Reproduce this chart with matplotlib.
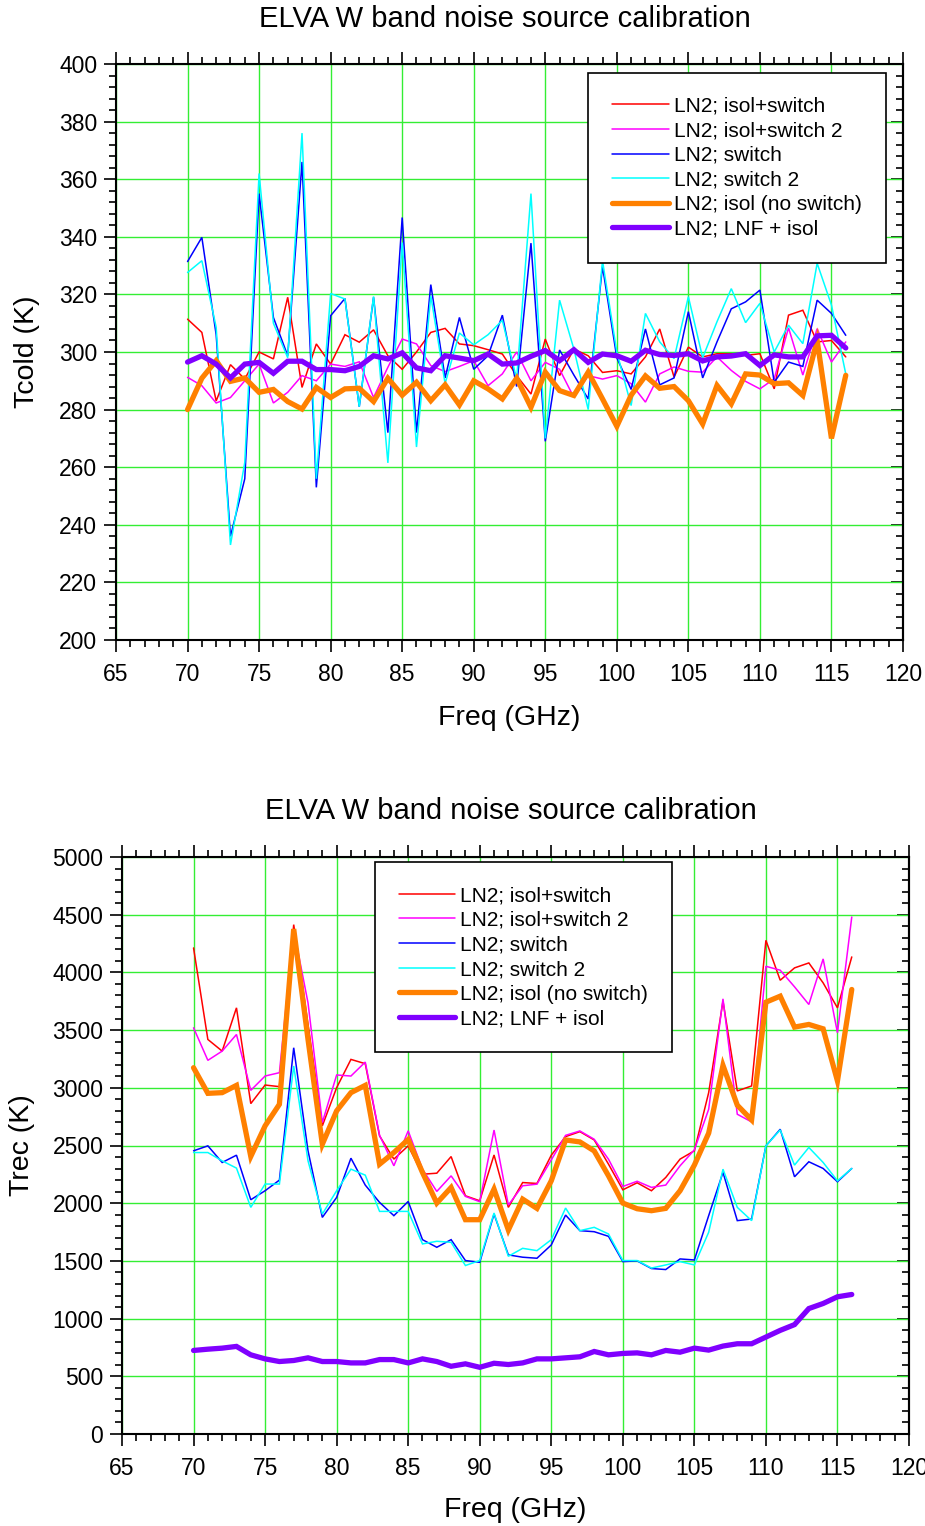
import numpy as np
import matplotlib
matplotlib.use("Agg")
import matplotlib.pyplot as plt
from matplotlib.ticker import MultipleLocator

plt.rcParams["font.family"] = ["Liberation Sans", "DejaVu Sans"]

TITLE = "ELVA W band noise source calibration"
LABELS = ["LN2; isol+switch", "LN2; isol+switch 2", "LN2; switch",
          "LN2; switch 2", "LN2; isol (no switch)", "LN2; LNF + isol"]

freq = list(range(70, 117))

# Tcold (K)
tcold_isol_switch = [311.4, 306.8, 283, 295.6, 290.6, 300, 297.6, 319, 287.7, 302.8,
                     295.8, 306, 303.4, 307.7, 298.7, 294, 300, 306.8, 308.2, 302.8,
                     302.2, 300.8, 299.3, 291.8, 285.4, 304.5, 291.8, 301, 298.7, 292.9,
                     293.5, 292.4, 298.3, 308, 291.3, 301.7, 298.3, 299.4, 299.4, 298.8,
                     299.4, 287.2, 312.8, 314.5, 303.5, 304, 298.3]
tcold_isol_switch2 = [291.2, 288.3, 282.3, 284.2, 290, 295.8, 282.3, 286, 291.8, 290,
                      295.8, 295, 296.6, 284.2, 294.7, 304.5, 302.8, 295.3, 293.2, 295,
                      297, 288.3, 292.4, 300, 290, 296.4, 294, 284.2, 291.8, 290.6,
                      291.8, 289, 282.6, 292.4, 294.8, 293.3, 293, 298.3, 293.6, 289.8,
                      287.2, 290.7, 308.4, 292, 308.1, 296.5, 303.5]
tcold_switch = [331.4, 339.8, 306, 236, 256, 355, 312, 298.7, 366, 253,
                312.6, 318.6, 281, 319, 272, 346.7, 272, 323.4, 291, 312,
                294, 298.7, 312.8, 288, 337.8, 269, 300.7, 292, 283.7, 329.7,
                298, 287, 308, 288.6, 291, 314, 291, 303.5, 315, 317.4,
                321.5, 289.5, 296.5, 295, 318, 313.4, 305.8]
tcold_switch2 = [327.6, 331.7, 308.6, 233, 261.7, 362, 310, 298, 376, 256,
                 320.3, 318.4, 281, 319.3, 261.5, 338, 267, 319.5, 289, 306.6,
                 302.5, 306, 311, 290.6, 355, 270, 318, 301, 280, 331.7,
                 300, 281.4, 313.4, 303.5, 297.7, 319.2, 298, 310.5, 322, 310.2,
                 316.9, 300, 309.3, 302.9, 330.8, 316.3, 292.4]
tcold_isol = [280, 290.9, 297, 289.8, 291, 286, 287, 282.8, 280.2, 287.7,
              284.2, 287.2, 287.4, 282.8, 290.9, 285, 289.5, 283.1, 288.6, 281.6,
              290, 287.2, 283.7, 290.9, 280.8, 293, 286.6, 284.9, 293, 283.7,
              274.2, 285, 291.7, 287.4, 288, 283.1, 275, 288.4, 282, 292.4,
              292, 289, 289.3, 284.9, 304, 270, 291.9]
tcold_lnf = [296.5, 298.7, 295.8, 291, 295.8, 296.4, 292.6, 296.8, 296.8, 293.9,
             293.9, 293.5, 295, 298.7, 297.6, 299.7, 294.5, 293.5, 298.7, 297.9,
             297, 299.3, 295.8, 296.2, 298.5, 300.5, 297, 300.8, 296.4, 299.3,
             298.7, 296.8, 300.6, 299.1, 298.8, 299.4, 296.9, 298.3, 298.6, 299.4,
             295.3, 299, 298.3, 298.3, 305.6, 305.8, 301.4]

# Trec (K)
trec_isol_switch = [4212, 3419, 3318, 3693, 2863, 3024, 3010, 4414, 3550, 2670,
                    3001, 3246, 3209, 2583, 2382, 2497, 2251, 2260, 2404, 2064,
                    2021, 2418, 1964, 2179, 2171, 2416, 2577, 2620, 2548, 2338,
                    2116, 2177, 2108, 2223, 2382, 2454, 2958, 3751, 2973, 3016,
                    4278, 3932, 4039, 4082, 3909, 3693, 4134]
trec_isol_switch2 = [3520, 3238, 3318, 3462, 2978, 3102, 3131, 4370, 3736, 2699,
                     3111, 3102, 3223, 2589, 2324, 2627, 2295, 2102, 2237, 2059,
                     2013, 2634, 1984, 2151, 2165, 2375, 2588, 2626, 2554, 2381,
                     2145, 2190, 2137, 2157, 2324, 2462, 2814, 3771, 2771, 2704,
                     4053, 4019, 3875, 3722, 4117, 3477, 4480]
trec_switch = [2454, 2497, 2353, 2416, 2030, 2108, 2200, 3347, 2454, 1877,
               2050, 2390, 2157, 2007, 1892, 2015, 1684, 1618, 1684, 1503,
               1488, 1906, 1552, 1532, 1523, 1638, 1897, 1762, 1753, 1713,
               1494, 1500, 1434, 1425, 1517, 1508, 1892, 2267, 1849, 1863,
               2497, 2641, 2229, 2359, 2301, 2186, 2301]
trec_switch2 = [2439, 2439, 2367, 2304, 1964, 2166, 2166, 3189, 2367, 1906,
                2108, 2295, 2243, 1929, 1929, 1929, 1647, 1670, 1661, 1460,
                1503, 1915, 1540, 1609, 1589, 1684, 1958, 1762, 1791, 1733,
                1503, 1503, 1438, 1465, 1494, 1465, 1748, 2295, 1964, 1849,
                2497, 2635, 2330, 2483, 2353, 2194, 2301]
trec_isol = [3174, 2952, 2958, 3021, 2405, 2670, 2857, 4376, 3419, 2511,
             2800, 2958, 3021, 2338, 2439, 2552, 2266, 2001, 2136, 1857,
             1857, 2122, 1768, 2035, 1955, 2194, 2548, 2531, 2453, 2237,
             2001, 1952, 1935, 1955, 2108, 2330, 2607, 3194, 2849, 2722,
             3742, 3794, 3526, 3549, 3511, 3059, 3852]
trec_lnf = [724, 735, 744, 759, 686, 651, 628, 637, 660, 628,
            628, 616, 616, 645, 645, 616, 651, 628, 587, 608,
            578, 613, 602, 616, 651, 651, 660, 669, 715, 686,
            698, 703, 686, 724, 709, 744, 727, 762, 782, 782,
            840, 898, 948, 1087, 1131, 1189, 1209]

COLORS = ["#ff0000", "#ff00ff", "#0000ff", "#00ffff", "#ff8000", "#8000ff"]
WIDTHS = [1.1, 1.1, 1.1, 1.1, 3.8, 3.8]


def style_axes(ax, ymin, ymax, ymajor, yminor):
    ax.set_xlim(65, 120)
    ax.set_ylim(ymin, ymax)
    ax.xaxis.set_major_locator(MultipleLocator(5))
    ax.xaxis.set_minor_locator(MultipleLocator(1))
    ax.yaxis.set_major_locator(MultipleLocator(ymajor))
    ax.yaxis.set_minor_locator(MultipleLocator(yminor))
    ax.grid(True, which="major", color="#33ee33", linewidth=1.0)
    ax.set_axisbelow(True)
    for s in ax.spines.values():
        s.set_linewidth(1.5)
    ax.tick_params(which="both", direction="out", top=True, right=False,
                   labelsize=16.5, width=1.2)
    ax.tick_params(which="major", length=8.5)
    ax.tick_params(which="minor", length=5)
    ax.tick_params(axis="x", which="major", pad=8)
    ax.tick_params(axis="y", which="major", pad=5)
    # right side ticks point inwards
    sec = ax.secondary_yaxis("right")
    sec.yaxis.set_major_locator(MultipleLocator(ymajor))
    sec.yaxis.set_minor_locator(MultipleLocator(yminor))
    sec.tick_params(which="both", direction="in", labelright=False, width=1.2)
    sec.tick_params(which="major", length=8.5)
    sec.tick_params(which="minor", length=5)
    sec.spines["right"].set_linewidth(1.5)


def draw_panel(ax, series, ylabel, leg_anchor, leg_loc):
    for y, c, w, lab in zip(series, COLORS, WIDTHS, LABELS):
        ax.plot(freq, y, color=c, linewidth=w, label=lab,
                solid_joinstyle="miter", solid_capstyle="round")
    ax.set_xlabel("Freq (GHz)", fontsize=20.5)
    ax.set_ylabel(ylabel, fontsize=20.5)
    leg = ax.legend(loc=leg_loc, bbox_to_anchor=leg_anchor, fontsize=15,
                    frameon=True, fancybox=False, framealpha=1,
                    edgecolor="black", borderpad=1.15, labelspacing=0.27,
                    handlelength=2.7, handletextpad=0.25, borderaxespad=0)
    leg.get_frame().set_linewidth(1.2)


def main():
    fig = plt.figure(figsize=(9.25, 15.26), dpi=100)

    ax1 = fig.add_axes([116 / 925, 1 - 640 / 1526, 787 / 925, 576 / 1526])
    style_axes(ax1, 200, 400, 20, 4)
    draw_panel(ax1, [tcold_isol_switch, tcold_isol_switch2, tcold_switch,
                     tcold_switch2, tcold_isol, tcold_lnf],
               "Tcold (K)", (0.978, 0.985), "upper right")
    ax1.xaxis.set_label_coords(0.5, -0.112)
    ax1.yaxis.set_label_coords(-0.097, 0.5)
    fig.text(505 / 925, 1 - 19 / 1526, TITLE, fontsize=21, ha="center", va="center")

    ax2 = fig.add_axes([122 / 925, 1 - 1434 / 1526, 787 / 925, 577 / 1526])
    style_axes(ax2, 0, 5000, 500, 100)
    draw_panel(ax2, [trec_isol_switch, trec_isol_switch2, trec_switch,
                     trec_switch2, trec_isol, trec_lnf],
               "Trec (K)", (0.3215, 0.991), "upper left")
    ax2.xaxis.set_label_coords(0.5, -0.11)
    ax2.yaxis.set_label_coords(-0.11, 0.5)
    fig.text(511 / 925, 1 - 811 / 1526, TITLE, fontsize=21, ha="center", va="center")

    fig.savefig("out.png", dpi=100)
    plt.close(fig)


if __name__ == "__main__":
    main()
